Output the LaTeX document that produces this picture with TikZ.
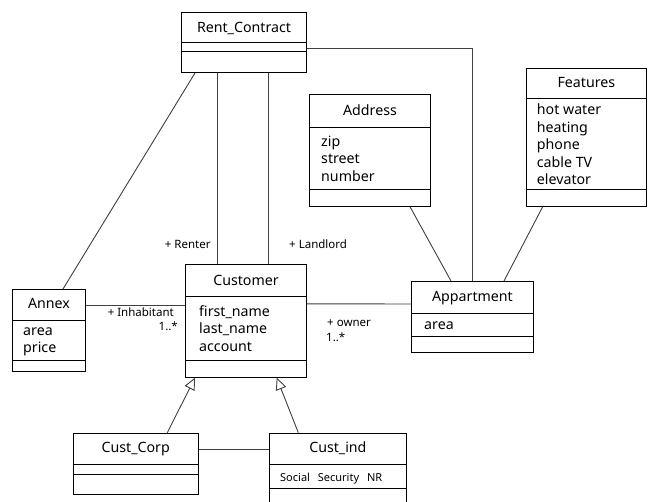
\documentclass[tikz,border=0pt]{standalone}
\usepackage{fontspec}
\setmainfont{Noto Sans}
\usetikzlibrary{arrows.meta,calc}

\newcommand{\compline}[2]{\draw[line width=1pt] ($(#1.north west)+(0,#2)$) -- ($(#1.north east)+(0,#2)$);}

\begin{document}
\begin{tikzpicture}[x=1pt,y=-1pt,
  cls/.style={draw,line width=1pt,inner sep=0pt,anchor=north west},
  title/.style={font=\fontsize{14.2}{17}\selectfont,text height=10.1pt,text depth=0pt,inner sep=0pt},
  attr/.style={font=\fontsize{14.2}{17.5}\selectfont,align=left,anchor=north west,inner sep=0pt},
  role/.style={font=\fontsize{11.5}{14.5}\selectfont,inner sep=0pt},
  assoc/.style={draw=black!75,line width=0.9pt},
  gen/.style={assoc,-{Triangle[open,length=12pt,width=11pt,fill=white]}}]

\clip (0,0) rectangle (652,502);
\fill[white] (0,0) rectangle (652,502);

% classes
\node[cls,minimum width=125pt,minimum height=60.3pt] (rent) at (181,11.7) {};
\node[title] (rentname) at ($(rent.north)+(0,15.5)$) {Rent\_Contract};
\compline{rent}{31}
\compline{rent}{40.3}

\node[cls,minimum width=121pt,minimum height=111.4pt] (addr) at (309,94.3) {};
\node[title] (addrname) at ($(addr.north)+(0,16.5)$) {Address};
\node[attr] (addrattr) at ($(addr.north west)+(12,39.5)$) {\strut zip\\street\\number};
\compline{addr}{33}
\compline{addr}{95}

\node[cls,minimum width=120.3pt,minimum height=138pt] (feat) at (525.7,67.7) {};
\node[title] (featname) at ($(feat.north)+(0,14.5)$) {Features};
\node[attr] (featattr) at ($(feat.north west)+(11,34.4)$) {\strut hot water\\heating\\phone\\cable TV\\elevator};
\compline{feat}{31}
\compline{feat}{121.6}

\node[cls,minimum width=121pt,minimum height=112.4pt] (cust) at (185,264.3) {};
\node[title] (custname) at ($(cust.north)+(0,16)$) {Customer};
\node[attr] (custattr) at ($(cust.north west)+(14,39.5)$) {\strut first\_name\\last\_name\\account};
\compline{cust}{32.4}
\compline{cust}{95.7}

\node[cls,minimum width=73pt,minimum height=81.5pt] (annex) at (12,289) {};
\node[title] (annexname) at ($(annex.north)+(0,14.8)$) {Annex};
\node[attr] (annexattr) at ($(annex.north west)+(11,33.8)$) {\strut area\\price};
\compline{annex}{31.7}
\compline{annex}{71}

\node[cls,minimum width=122pt,minimum height=71.3pt] (app) at (411,281) {};
\node[title] (appname) at ($(app.north)+(0,15)$) {Appartment};
\node[attr] (appattr) at ($(app.north west)+(13,36)$) {\strut area};
\compline{app}{32.3}
\compline{app}{55.7}

\node[cls,minimum width=125pt,minimum height=61.3pt] (corp) at (72.7,432.7) {};
\node[title] (corpname) at ($(corp.north)+(0,14.8)$) {Cust\_Corp};
\compline{corp}{31.6}
\compline{corp}{41.3}

\node[cls,minimum width=136.7pt,minimum height=80pt] (ind) at (269,432.7) {};
\node[title] (indname) at ($(ind.north)+(0,14.8)$) {Cust\_ind};
\node[font=\fontsize{11}{14}\selectfont,anchor=base west,inner sep=0pt] (indattr) at ($(ind.north west)+(11,49)$) {Social\hspace{5pt} Security\hspace{5pt} NR};
\compline{ind}{31.6}
\compline{ind}{55.6}

% associations
\coordinate (renter) at ($(cust.north west)+(32,0)$);
\coordinate (landlord) at ($(cust.north west)+(83.3,0)$);
\draw[assoc] (renter) -- (renter |- rent.south);
\draw[assoc] (landlord) -- (landlord |- rent.south);
\draw[assoc] ($(rent.south west)+(14,0)$) -- ($(annex.north west)+(51,0)$);
\draw[assoc] ($(rent.north east)+(0,36.5)$) -| (app.north);
\draw[assoc] ($(addr.south west)+(101,0)$) -- ($(app.north west)+(40,0)$);
\draw[assoc] ($(feat.south west)+(17,0)$) -- ($(app.north west)+(93,0)$);
\draw[assoc] ($(annex.north east)+(0,16)$) -- ($(cust.north west)+(0,40.7)$);
\draw[assoc] ($(cust.north east)+(0,39.5)$) -- ($(app.north west)+(0,23)$);
\draw[assoc] ($(corp.north east)+(0,16.6)$) -- ($(ind.north west)+(0,16.6)$);

% generalization
\draw[gen] ($(corp.north west)+(94.6,0)$) -- ($(cust.south west)+(10,0)$);
\draw[gen] ($(ind.north west)+(29.3,0)$) -- ($(cust.south west)+(91.7,0)$);

% roles
\node[role,anchor=base east] (renterlbl) at (210.7,248) {+ Renter};
\node[role,anchor=base west] (landlordlbl) at (289,248) {+ Landlord};
\node[role,anchor=base east] (inhablbl) at (174,316) {+ Inhabitant};
\node[role,anchor=base east] (inhabmul) at (178,330) {1..*};
\node[role,anchor=base west] (ownerlbl) at (327,326.7) {+ owner};
\node[role,anchor=base west] (ownermul) at (326,341.7) {1..*};
\end{tikzpicture}
\end{document}
